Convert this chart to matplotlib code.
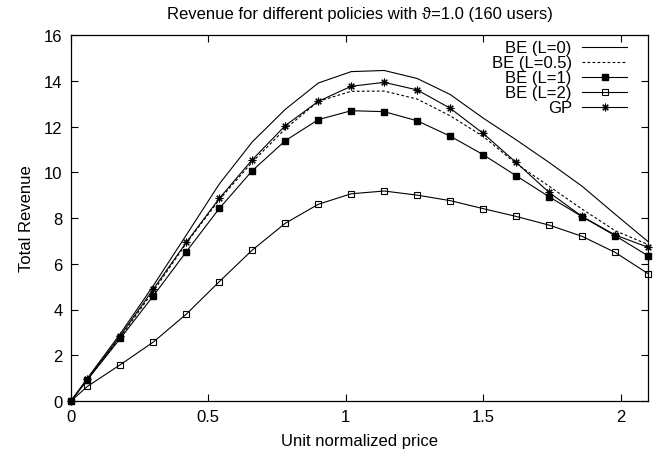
import matplotlib.pyplot as plt
from matplotlib.lines import Line2D

plt.rcParams['font.family'] = ['Liberation Sans', 'DejaVu Sans']

# unit normalized price
price = [0.0, 0.06, 0.18, 0.30, 0.42, 0.54, 0.66, 0.78, 0.90, 1.02,
         1.14, 1.26, 1.38, 1.50, 1.62, 1.74, 1.86, 1.98, 2.10]

# total revenue per policy
be_l0 = [0, 1.0, 2.95, 5.05, 7.26, 9.49, 11.33, 12.75, 13.9, 14.4,
         14.45, 14.1, 13.4, 12.37, 11.42, 10.43, 9.39, 8.17, 6.97]
be_l05 = [0, 0.95, 2.8, 4.8, 6.9, 8.8, 10.45, 11.9, 13.1, 13.54,
          13.55, 13.2, 12.47, 11.57, 10.38, 9.39, 8.39, 7.45, 6.84]
be_l1 = [0, 0.93, 2.74, 4.6, 6.53, 8.42, 10.07, 11.38, 12.3, 12.69,
         12.65, 12.25, 11.58, 10.77, 9.85, 8.93, 8.06, 7.23, 6.35]
be_l2 = [0, 0.64, 1.59, 2.58, 3.8, 5.22, 6.6, 7.77, 8.6, 9.06,
         9.18, 9.0, 8.76, 8.41, 8.07, 7.69, 7.2, 6.5, 5.57]
gp = [0, 0.95, 2.86, 4.9, 6.94, 8.86, 10.55, 12.04, 13.1, 13.76,
      13.93, 13.6, 12.8, 11.7, 10.43, 9.12, 8.07, 7.26, 6.72]

labels = ['BE (L=0)', 'BE (L=0.5)', 'BE (L=1)', 'BE (L=2)', 'GP']

fig = plt.figure(figsize=(6.67, 4.6), dpi=100)
ax = fig.add_axes([0.1064, 0.1261, 0.8651, 0.7956])

lw = 0.8
styles = [
    dict(color='black', lw=lw, ls='-'),
    dict(color='black', lw=lw, ls=(0, (2.5, 2))),
    dict(color='black', lw=lw, ls='-', marker='s', ms=5, mfc='black', mec='black'),
    dict(color='black', lw=lw, ls='-', marker='s', ms=5, mfc='none', mec='black', mew=0.8),
    dict(color='black', lw=lw, ls='-', marker=(8, 2, 0), ms=5.5, mec='black', mew=0.8),
]
series = [be_l0, be_l05, be_l1, be_l2, gp]

for ys, st in zip(series, styles):
    ax.plot(price, ys, clip_on=False, **st)

# gnuplot-like legend: right-aligned text, sample on the right
row_y = [0.967, 0.926, 0.885, 0.844, 0.803]
for lab, st, yy in zip(labels, styles, row_y):
    ax.text(0.868, yy, lab, transform=ax.transAxes, ha='right', va='center', fontsize=12)
    line_st = {k: v for k, v in st.items() if k not in ('marker', 'ms', 'mfc', 'mec', 'mew')}
    ax.add_line(Line2D([0.886, 0.964], [yy, yy], transform=ax.transAxes, **line_st))
    if 'marker' in st:
        mk = {k: v for k, v in st.items() if k in ('marker', 'ms', 'mfc', 'mec', 'mew', 'color')}
        ax.add_line(Line2D([0.925], [yy], transform=ax.transAxes, ls='none', **mk))

ax.set_xlim(0, 2.1)
ax.set_ylim(0, 16)
ax.set_xticks([0, 0.5, 1, 1.5, 2])
ax.set_xticklabels(['0', '0.5', '1', '1.5', '2'])
ax.set_yticks(range(0, 17, 2))
ax.tick_params(direction='in', top=True, right=True, length=5, width=0.8,
               labelsize=12, pad=6)
for sp in ax.spines.values():
    sp.set_linewidth(0.9)

ax.set_title('Revenue for different policies with \u03d1=1.0 (160 users)', fontsize=12, pad=12)
ax.set_xlabel('Unit normalized price', fontsize=12, labelpad=6)
ax.set_ylabel('Total Revenue', fontsize=12, labelpad=7)

fig.savefig('out.png', dpi=100)
